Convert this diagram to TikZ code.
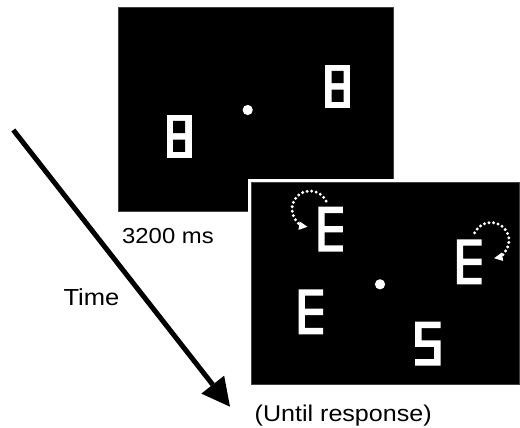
\documentclass[tikz,border=0pt]{standalone}
\usepackage{fontspec}
\setmainfont{Liberation Sans}[FakeStretch=1.1]
\usetikzlibrary{arrows.meta}

\tikzset{
  panel/.style={fill=black, draw=black!75, line width=0.5pt},
  gapframe/.style={fill=white},
  fixdot/.style={circle, fill=white, inner sep=0pt, minimum size=10.2pt},
  rotmark/.style={white, line width=3.3pt, line cap=round,
    dash pattern=on 0pt off 4.6pt,
    -{Triangle[length=8.5pt,width=8.5pt,line width=0pt]}},
  timearrow/.style={line width=5pt,
    -{Triangle[length=28pt,width=29pt,line width=0pt]}},
  caption/.style={inner sep=0pt, anchor=base west, text=black},
  % two-hole placeholder frame
  pics/eightbox/.style={code={
    \fill[white] (0,0) rectangle (25,43.3);
    \fill[black] (6.5,6) rectangle (18.5,18.2)
                 (6.5,24.6) rectangle (18.5,36.8);
  }},
  % block letter E
  pics/Eglyph/.style={code={
    \fill[white] (0,0) -- (24.6,0) -- (24.6,6.4) -- (6.3,6.4) -- (6.3,19.3)
      -- (24.6,19.3) -- (24.6,25.7) -- (6.3,25.7) -- (6.3,38.6) -- (24.6,38.6)
      -- (24.6,45) -- (0,45) -- cycle;
  }},
  % block mirrored-E / S shape
  pics/Sglyph/.style={code={
    \fill[white] (0,0) -- (25.5,0) -- (25.5,6.5) -- (6.5,6.5) -- (6.5,18.75)
      -- (25.5,18.75) -- (25.5,44) -- (0,44) -- (0,37.5) -- (19,37.5)
      -- (19,25.25) -- (0,25.25) -- cycle;
  }},
}

\begin{document}
\begin{tikzpicture}[x=1pt, y=-1pt]
\useasboundingbox (0,0) rectangle (520,428);

% first display: placeholders
\fill[panel] (118.5,7.3) rectangle (392.8,211);
\pic (ph1) at (166.7,115) {eightbox};
\pic (ph2) at (325,65) {eightbox};
\node[fixdot] (fix1) at (247.7,110) {};

% second display: search array
\fill[gapframe] (248.4,179) rectangle (522,388);
\fill[panel] (251.6,182.3) rectangle (519.3,384.5);
\pic (e1) at (318.3,206.7) {Eglyph};
\pic (e2) at (456.9,239.3) {Eglyph};
\pic (e3) at (298.5,289.3) {Eglyph};
\pic (s1) at (415,321.7) {Sglyph};
\node[fixdot] (fix2) at (380,284.3) {};

% rotation cues around the changing letters
\coordinate (rc1) at (310,209);
\coordinate (rc2) at (491,240.5);
\draw[rotmark] (rc1) ++(-26:18) arc[start angle=-26, end angle=-262, radius=18];
\draw[rotmark] (rc2) ++(-155:18) arc[start angle=-155, end angle=80, radius=18];

% time axis
\coordinate (tstart) at (13.3,130);
\coordinate (tend) at (230,406.7);
\draw[timearrow] (tstart) -- (tend);

% labels
\node[caption] (dur) at (122,243.3) {\fontsize{21.7}{26}\selectfont 3200 ms};
\node[caption] (timelab) at (63.3,305) {\fontsize{23.2}{28}\selectfont Time};
\node[caption] (until) at (254.5,421.7) {\fontsize{22.8}{27}\selectfont (Until response)};
\end{tikzpicture}
\end{document}
